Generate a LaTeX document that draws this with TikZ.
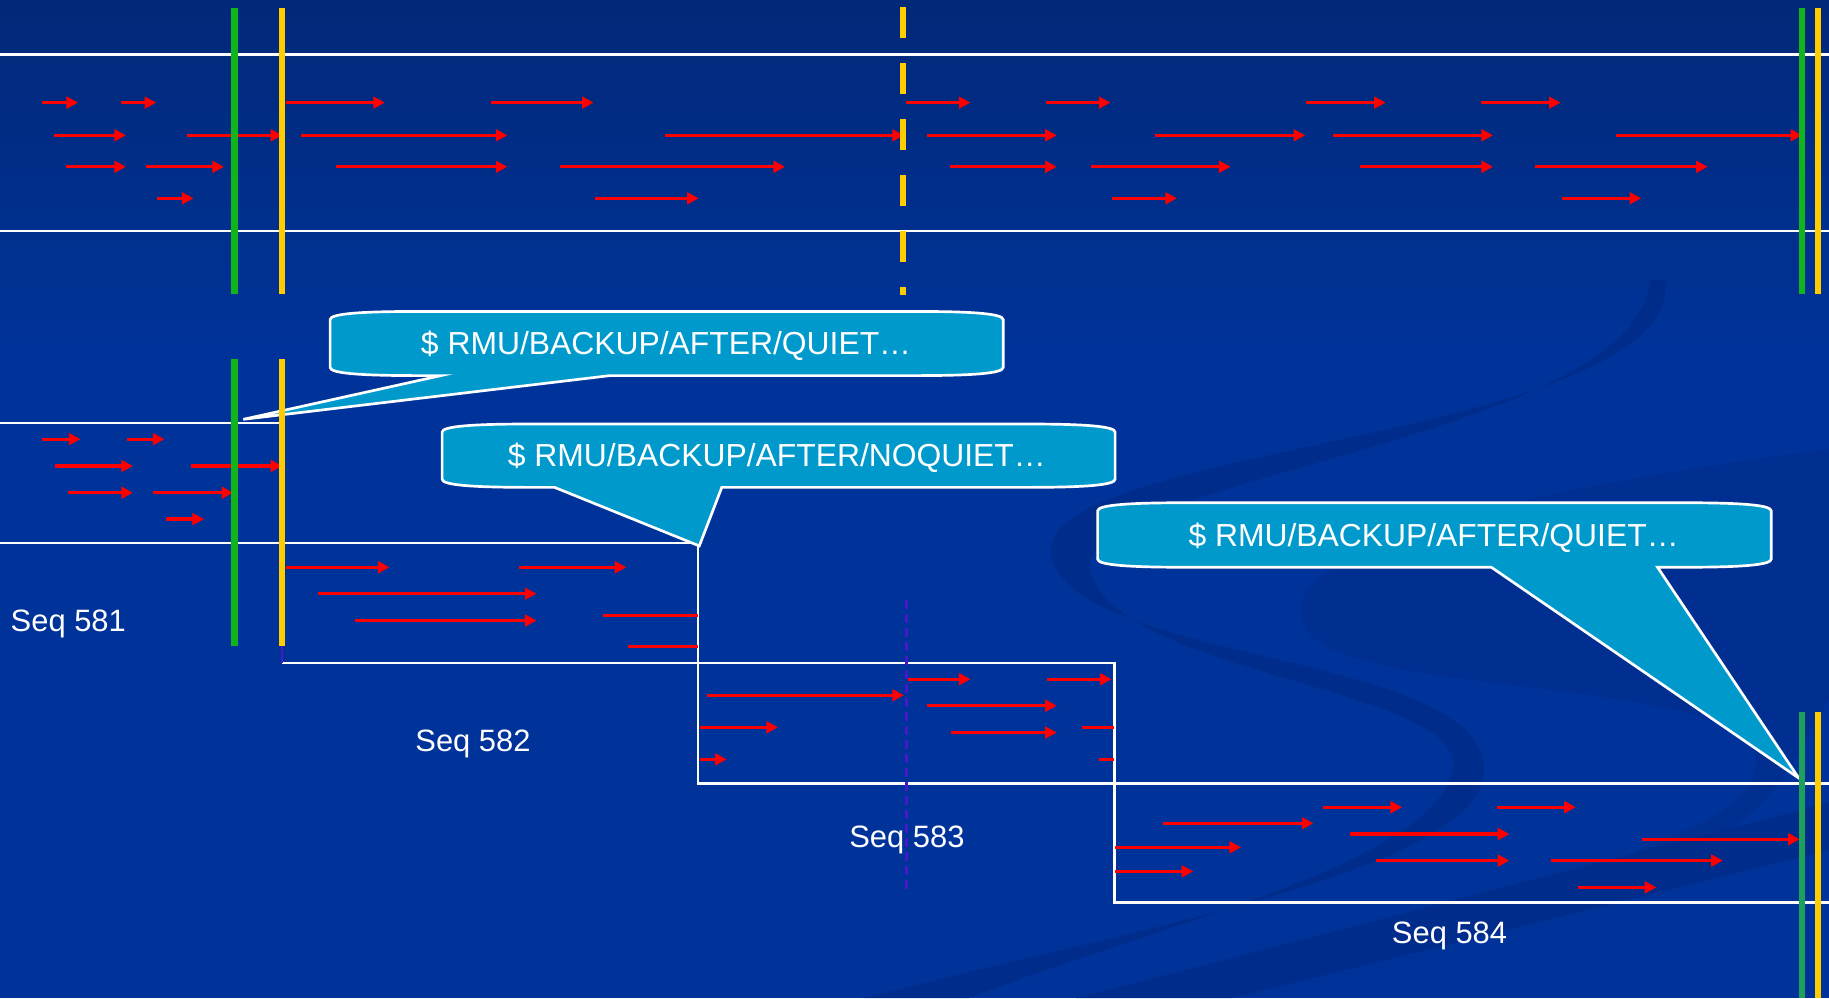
\documentclass[tikz,border=0pt]{standalone}
\usepackage{fontspec}
\setmainfont{Liberation Sans}
\usetikzlibrary{arrows.meta}
\definecolor{bgmain}{RGB}{0,51,153}
\definecolor{bgtop}{RGB}{2,40,120}
\definecolor{swoosh}{RGB}{0,34,112}
\definecolor{callfill}{RGB}{0,153,204}
\definecolor{mkgreen}{RGB}{18,180,27}
\definecolor{mkgreenb}{RGB}{30,160,90}
\definecolor{mkyellow}{RGB}{255,204,0}
\definecolor{arrred}{RGB}{255,0,0}
\definecolor{stubcol}{RGB}{70,25,200}
\tikzset{
  flow/.style={draw=arrred, line width=2.8pt, -{Triangle[length=10pt,width=10pt]}},
  flowcut/.style={draw=arrred, line width=2.8pt},
  rail/.style={draw=white, line width=2.3pt},
  gmark/.style={draw=mkgreen, line width=5.5pt},
  gmarkb/.style={draw=mkgreenb, line width=5.5pt},
  ymark/.style={draw=mkyellow, line width=5.5pt},
  callout/.style={fill=callfill, draw=white, line width=2.3pt, line join=miter},
  calltext/.style={text=white, font=\fontsize{27.3}{32}\selectfont, inner sep=0pt, anchor=base},
  seqtext/.style={text=white, font=\fontsize{26.5}{32}\selectfont, inner sep=0pt, anchor=base},
  swooshfill/.style={fill=swoosh, fill opacity=0.3, draw=none},
}
% x1, x2, ytop, ybottom, base-left, base-right, tip x, tip y
\newcommand\mycallout[8]{%
  \path[callout] (#1,#3+7) .. controls (#1,#3+2) and (#1+25,#3) .. (#1+75,#3)
    -- (#2-75,#3) .. controls (#2-25,#3) and (#2,#3+2) .. (#2,#3+7)
    -- (#2,#4-7) .. controls (#2,#4-2) and (#2-25,#4) .. (#2-75,#4)
    -- (#6,#4) -- (#7,#8) -- (#5,#4)
    -- (#1+75,#4) .. controls (#1+25,#4) and (#1,#4-2) .. (#1,#4-7) -- cycle;
}
\begin{document}
\begin{tikzpicture}[x=1pt,y=-1pt]
\useasboundingbox (0,0) rectangle (1568,856);
% background
\fill[bgmain] (0,0) rectangle (1568,856);
\shade[top color=bgtop, bottom color=bgmain] (0,0) rectangle (1568,300);
% swooshes
\path[swooshfill] (1428,240) .. controls (1440,380) and (870,380) .. (902,480)
  .. controls (930,570) and (1285,560) .. (1272,665)
  .. controls (1260,750) and (950,800) .. (740,856)
  -- (830,856) .. controls (1000,790) and (1230,740) .. (1245,660)
  .. controls (1260,590) and (960,580) .. (935,490)
  .. controls (915,410) and (1400,380) .. (1415,240) -- cycle;
\path[swooshfill, fill opacity=0.18] (1568,385) .. controls (1300,420) and (1080,470) .. (1120,540)
  .. controls (1160,600) and (1500,580) .. (1505,650)
  .. controls (1508,690) and (1450,710) .. (1400,730)
  -- (1440,730) .. controls (1530,700) and (1540,640) .. (1568,600) -- cycle;
\path[swooshfill, fill opacity=0.3] (1568,688) -- (1568,729) -- (1055,856) -- (922,856) -- cycle;

% top panel rails
\draw[rail] (0,47) -- (1568,47);
\draw[rail] (0,198) -- (1568,198);
% top panel flows
\foreach \a/\b in {36/67,104/134,245/330,421/509,777/832,897/952,1120/1188,1270/1338}
  \draw[flow] (\a,88) -- (\b,88);
\foreach \a/\b in {46/108,160/242,258/435,570/775,795/906,990/1119,1143/1280,1385/1545}
  \draw[flow] (\a,116) -- (\b,116);
\foreach \a/\b in {57/108,125/192,288/435,480/673,814/906,935/1055,1166/1280,1316/1464}
  \draw[flow] (\a,143) -- (\b,143);
\foreach \a/\b in {135/166,510/599,953/1009,1339/1407}
  \draw[flow] (\a,170) -- (\b,170);

% sequence rails
\draw[rail] (0,362.5) -- (242,362.5);
\draw[rail] (0,465.5) -- (598.5,465.5) -- (598.5,671.5) -- (1568,671.5);
\draw[rail] (242,568.5) -- (955.5,568.5) -- (955.5,773.5) -- (1568,773.5);
\draw[stubcol, line width=1.8pt] (241.5,554) -- (241.5,568.5);

% Seq 581 flows
\foreach \a/\b in {36/69,109/141} \draw[flow] (\a,376.5) -- (\b,376.5);
\foreach \a/\b in {47/114,164/242} \draw[flow] (\a,399.5) -- (\b,399.5);
\foreach \a/\b in {58/114,131/200} \draw[flow] (\a,422.4) -- (\b,422.4);
\draw[flow] (142,445) -- (175,445);
% Seq 582 flows
\foreach \a/\b in {245/334,445/537} \draw[flow] (\a,486.3) -- (\b,486.3);
\draw[flow] (273,509) -- (460,509);
\draw[flowcut] (517,527.5) -- (598,527.5);
\draw[flow] (304,532) -- (460,532);
\draw[flowcut] (538,554.5) -- (598,554.5);
% Seq 583 flows
\foreach \a/\b in {778/832,898/953} \draw[flow] (\a,582.3) -- (\b,582.3);
\draw[flow] (606,596) -- (775,596);
\draw[flow] (795,605) -- (906,605);
\draw[flow] (600,623.5) -- (667,623.5);
\draw[flowcut] (928,623.5) -- (955,623.5);
\draw[flow] (815,628) -- (906,628);
\draw[flow] (600,651) -- (623,651);
\draw[flowcut] (942,651) -- (955,651);
% Seq 584 flows
\foreach \a/\b in {1134/1202,1283/1351} \draw[flow] (\a,692) -- (\b,692);
\draw[flow] (997,705.8) -- (1126,705.8);
\draw[flow] (1157,715) -- (1294,715);
\draw[flow] (1408,719.5) -- (1543,719.5);
\draw[flow] (956,726.4) -- (1064,726.4);
\foreach \a/\b in {1180/1294,1330/1477} \draw[flow] (\a,737.8) -- (\b,737.8);
\draw[flow] (956,747) -- (1023,747);
\draw[flow] (1353,760.7) -- (1420,760.7);

% dashed checkpoint in seq 583
\draw[stubcol, line width=2.2pt, dash pattern=on 8pt off 4pt] (777,514) -- (777,762);

% callouts
\mycallout{283}{860}{267}{322}{378}{523}{208.6}{359.5}
\mycallout{379}{956}{363.5}{417.8}{475.4}{618.8}{599.5}{468}
\mycallout{941}{1518.5}{431}{486.3}{1278.5}{1421}{1542}{667}
\node[calltext] (c1) at (571,304.3) {\$ RMU/BACKUP/AFTER/QUIET…};
\node[calltext] (c2) at (666,400) {\$ RMU/BACKUP/AFTER/NOQUIET…};
\node[calltext] (c3) at (1229,468.6) {\$ RMU/BACKUP/AFTER/QUIET…};

% backup markers
\draw[gmark] (201,7) -- (201,252);
\draw[ymark] (242,7) -- (242,252);
\draw[ymark, dash pattern=on 27pt off 21pt] (774,6) -- (774,253);
\draw[gmark] (1545,7) -- (1545,252);
\draw[ymark] (1558.5,7) -- (1558.5,252);
\draw[gmark] (201,308) -- (201,554);
\draw[ymark] (242,308) -- (242,554);
\draw[gmarkb] (1545,610) -- (1545,856);
\draw[ymark] (1558.5,610) -- (1558.5,856);

% labels
\node[seqtext, anchor=base west] (s581) at (9,541) {Seq 581};
\node[seqtext] (s582) at (405.5,644.4) {Seq 582};
\node[seqtext] (s583) at (777.5,726.4) {Seq 583};
\node[seqtext] (s584) at (1242.7,808.7) {Seq 584};
\end{tikzpicture}
\end{document}
